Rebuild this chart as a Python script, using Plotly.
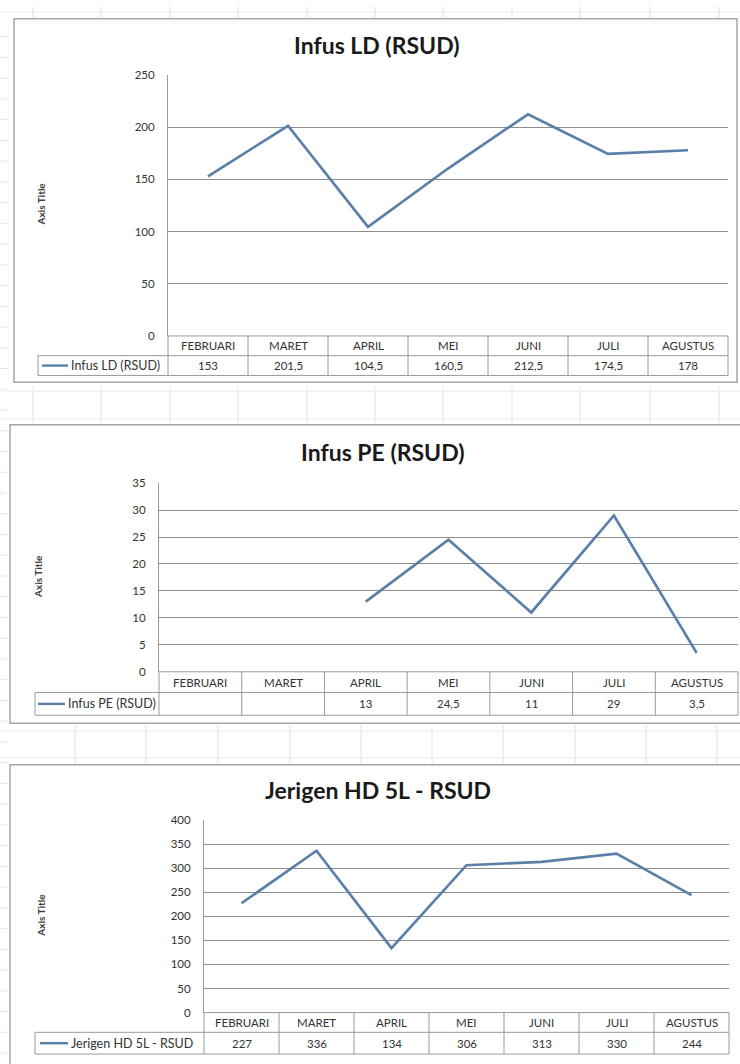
import plotly.graph_objects as go

W, H = 740, 1064

months = ["FEBRUARI", "MARET", "APRIL", "MEI", "JUNI", "JULI", "AGUSTUS"]

title_ld = "Infus LD (RSUD)"
infus_ld = [153, 201.5, 104.5, 160.5, 212.5, 174.5, 178]

title_pe = "Infus PE (RSUD)"
infus_pe = [None, None, 13, 24.5, 11, 29, 3.5]

title_jer = "Jerigen HD 5L - RSUD"
jerigen = [227, 336, 134, 306, 313, 330, 244]

y_max = [250, 35, 400]
y_step = [50, 5, 50]

# layout geometry in pixels (not data)
charts = [
    dict(name=title_ld, chart_title="Infus LD (RSUD)",
         pl=168, pr=728, pt=69, pb=333, hb=353, db=373, ll=38,
         border=(14, 12, 737, 380), tx=377, ty=38, ax=41, ay=200, key=(42, 68)),
    dict(name=title_pe, chart_title="Infus PE (RSUD)",
         pl=159, pr=738, pt=482, pb=673, hb=694, db=717, ll=35,
         border=(10, 423, 748, 725), tx=383, ty=450, ax=38, ay=577, key=(38, 65)),
    dict(name=title_jer, chart_title="Jerigen HD 5L - RSUD",
         pl=204, pr=729, pt=823, pb=1018, hb=1038, db=1060, ll=35,
         border=(10, 767, 748, 1075), tx=378, ty=793, ax=41, ay=920, key=(40, 68)),
]

def X(px):
    return px / W

def Y(py):
    return 1 - py / H

def fmt(v):
    if v is None:
        return ""
    s = f"{v:g}"
    return s.replace(".", ",")

LINE_COLOR = "#5b7fa8"
GRID = "#8c8c8c"
TBL = "#9a9a9a"
FONT = "Lato"

fig = go.Figure()
shapes = []
annotations = []

# faint spreadsheet grid in gaps
sheet_cols_a = [33, 101, 170, 238, 307, 375, 443, 512, 580, 650, 719]
for xc in sheet_cols_a:
    shapes.append(dict(type="line", xref="paper", yref="paper", x0=X(xc), x1=X(xc),
                       y0=Y(0), y1=Y(11), line=dict(color="#dddddd", width=1)))
    shapes.append(dict(type="line", xref="paper", yref="paper", x0=X(xc), x1=X(xc),
                       y0=Y(384), y1=Y(422), line=dict(color="#e2e2e2", width=1)))
sheet_cols_b = [75, 146, 218, 290, 361, 432, 503, 575, 646, 717]
for xc in sheet_cols_b:
    shapes.append(dict(type="line", xref="paper", yref="paper", x0=X(xc), x1=X(xc),
                       y0=Y(727), y1=Y(766), line=dict(color="#e2e2e2", width=1)))
for yr in [5, 389, 417, 733, 760]:
    shapes.append(dict(type="line", xref="paper", yref="paper", x0=0, x1=1,
                       y0=Y(yr), y1=Y(yr), line=dict(color="#ececec", width=1)))
for yr in range(30, 1064, 21):
    shapes.append(dict(type="line", xref="paper", yref="paper", x0=0, x1=X(7),
                       y0=Y(yr), y1=Y(yr), line=dict(color="#e4e4e4", width=1)))

series_list = [infus_ld, infus_pe, jerigen]

for i, c in enumerate(charts):
    n = i + 1
    xa = "x" if n == 1 else f"x{n}"
    ya = "y" if n == 1 else f"y{n}"
    vals = series_list[i]

    fig.add_trace(go.Scatter(
        x=months, y=vals, mode="lines", name=c["name"],
        line=dict(color=LINE_COLOR, width=2.7),
        xaxis=xa, yaxis=ya, showlegend=False, connectgaps=False,
    ))

    xkey = "xaxis" if n == 1 else f"xaxis{n}"
    ykey = "yaxis" if n == 1 else f"yaxis{n}"
    fig.update_layout(**{
        xkey: dict(domain=[X(c["pl"]), X(c["pr"])], type="category",
                   categoryorder="array", categoryarray=months,
                   range=[-0.5, len(months) - 0.5], showticklabels=False,
                   showgrid=False, zeroline=False, showline=False,
                   anchor=ya, fixedrange=True),
        ykey: dict(domain=[Y(c["pb"]), Y(c["pt"])], range=[0, y_max[i]],
                   dtick=y_step[i], tick0=0, showgrid=True, gridcolor=GRID,
                   gridwidth=1, zeroline=False, showline=True, linecolor=TBL,
                   linewidth=1, ticks="outside", ticklen=10,
                   tickcolor="rgba(0,0,0,0)",
                   tickfont=dict(family=FONT, size=11.5, color="#333333"),
                   anchor=xa, fixedrange=True),
    })

    # chart border
    bx0, by0, bx1, by1 = c["border"]
    shapes.append(dict(type="rect", xref="paper", yref="paper",
                       x0=X(bx0), x1=X(bx1), y0=Y(by1), y1=Y(by0),
                       line=dict(color="#a6a6a6", width=1.5), layer="below"))

    # data table lines
    tl = dict(color=TBL, width=1)
    pl, pr, pb, hb, db, ll = c["pl"], c["pr"], c["pb"], c["hb"], c["db"], c["ll"]
    shapes.append(dict(type="line", xref="paper", yref="paper", x0=X(pl), x1=X(pr),
                       y0=Y(pb), y1=Y(pb), line=tl))
    for yy in [hb, db]:
        shapes.append(dict(type="line", xref="paper", yref="paper", x0=X(ll), x1=X(pr),
                           y0=Y(yy), y1=Y(yy), line=tl))
    ncol = len(months)
    cw = (pr - pl) / ncol
    for k in range(ncol + 1):
        xx = pl + k * cw
        shapes.append(dict(type="line", xref="paper", yref="paper", x0=X(xx), x1=X(xx),
                           y0=Y(db), y1=Y(pb), line=tl))
    shapes.append(dict(type="line", xref="paper", yref="paper", x0=X(ll), x1=X(ll),
                       y0=Y(db), y1=Y(hb), line=tl))

    # legend key line in table
    k0, k1 = c["key"]
    ym = (hb + db) / 2
    shapes.append(dict(type="line", xref="paper", yref="paper", x0=X(k0), x1=X(k1),
                       y0=Y(ym), y1=Y(ym), line=dict(color=LINE_COLOR, width=2.4)))
    annotations.append(dict(x=X(k1 + 1), y=Y(ym), xref="paper", yref="paper",
                            text=c["name"], showarrow=False, xanchor="left",
                            yanchor="middle",
                            font=dict(family=FONT, size=12.5, color="#333333")))

    # header and value cells
    hm = (pb + hb) / 2
    for m, v in zip(months, vals):
        annotations.append(dict(x=m, y=Y(hm), xref=xa, yref="paper", text=m,
                                showarrow=False, yanchor="middle",
                                font=dict(family=FONT, size=11.5, color="#333333")))
        annotations.append(dict(x=m, y=Y(ym), xref=xa, yref="paper", text=fmt(v),
                                showarrow=False, yanchor="middle",
                                font=dict(family=FONT, size=11.5, color="#333333")))

    # chart title
    annotations.append(dict(x=X(c["tx"]), y=Y(c["ty"]), xref="paper", yref="paper",
                            text=f"<b>{c['chart_title']}</b>", showarrow=False,
                            xanchor="center", yanchor="middle",
                            font=dict(family=FONT, size=23, color="#1a1a1a")))
    # axis title
    annotations.append(dict(x=X(c["ax"]), y=Y(c["ay"]), xref="paper", yref="paper",
                            text="<b>Axis Title</b>", showarrow=False, textangle=-90,
                            xanchor="center", yanchor="middle",
                            font=dict(family=FONT, size=10, color="#404040")))

fig.update_layout(
    width=W, height=H,
    margin=dict(l=0, r=0, t=0, b=0),
    paper_bgcolor="white", plot_bgcolor="white",
    shapes=shapes, annotations=annotations,
    showlegend=False,
)

fig.write_html(
    "out.html",
    config={"displayModeBar": False, "staticPlot": False},
    post_script="document.body.style.margin='0';document.body.style.overflow='hidden';",
)
